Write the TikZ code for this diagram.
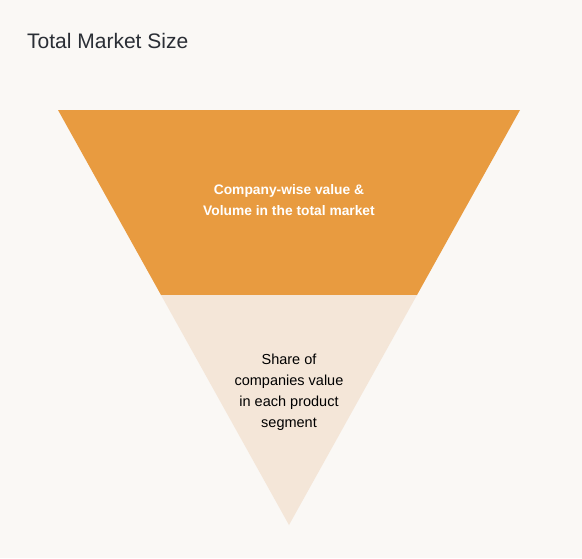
\documentclass[tikz,border=0pt]{standalone}
\usepackage{fontspec}
\setmainfont{Liberation Sans}
\definecolor{bg}{HTML}{FAF8F5}
\definecolor{orangefill}{HTML}{E89B40}
\definecolor{beigefill}{HTML}{F4E6D8}
\definecolor{titlecol}{HTML}{2A2E35}
\tikzset{
  lbl/.style={align=center, inner sep=0pt},
}
\begin{document}
\begin{tikzpicture}[x=1pt,y=-1pt]
\fill[bg] (0,0) rectangle (582,558);
\useasboundingbox (0,0) rectangle (582,558);
\coordinate (tl) at (58,110);
\coordinate (tr) at (520,110);
\coordinate (ml) at (161,295);
\coordinate (mr) at (417,295);
\coordinate (apex) at (289,525);
\fill[orangefill] (tl) -- (tr) -- (mr) -- (ml) -- cycle;
\fill[beigefill] (ml) -- (mr) -- (apex) -- cycle;
\node[anchor=base west, text=titlecol, font=\fontsize{21}{24}\selectfont, inner sep=0pt] (title) at (27,48.5) {Total Market Size};
\node[lbl, text=white, font=\bfseries\fontsize{13.8}{21}\selectfont] (top) at (289,200.5) {Company-wise value \&\\Volume in the total market};
\node[lbl, text=black, font=\fontsize{14.5}{21}\selectfont] (bottom) at (289,392.5) {Share of\\companies value\\in each product\\segment};
\end{tikzpicture}
\end{document}
